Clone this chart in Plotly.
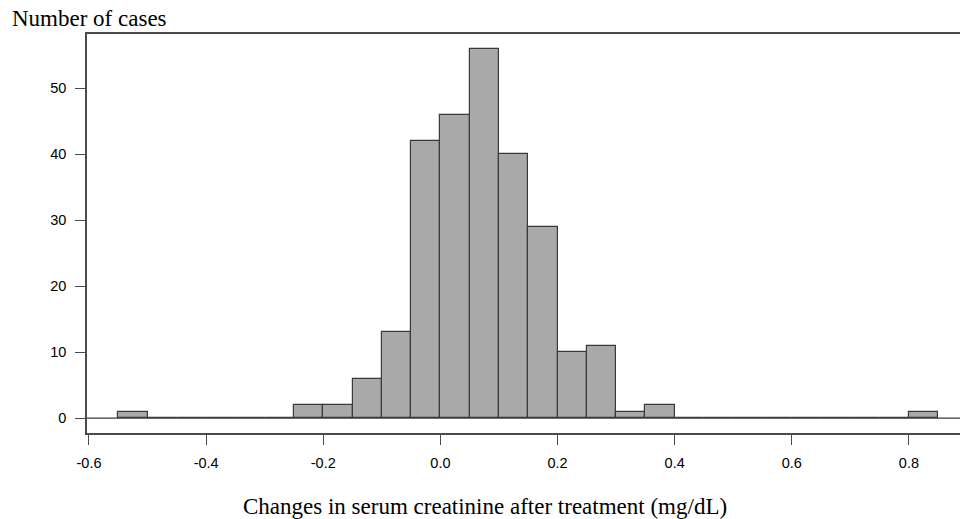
import plotly.graph_objects as go

# Histogram bins (width 0.05) and counts
bin_starts = [-0.55, -0.50, -0.45, -0.40, -0.35, -0.30, -0.25, -0.20, -0.15, -0.10,
              -0.05, 0.00, 0.05, 0.10, 0.15, 0.20, 0.25, 0.30, 0.35, 0.40,
              0.45, 0.50, 0.55, 0.60, 0.65, 0.70, 0.75, 0.80]
counts = [1, 0, 0, 0, 0, 0, 2, 2, 6, 13,
          42, 46, 56, 40, 29, 10, 11, 1, 2, 0,
          0, 0, 0, 0, 0, 0, 0, 1]
bin_width = 0.05
x_ticks = [-0.6, -0.4, -0.2, 0.0, 0.2, 0.4, 0.6, 0.8]
x_tick_labels = ["-0.6", "-0.4", "-0.2", "0.0", "0.2", "0.4", "0.6", "0.8"]
y_ticks = [0, 10, 20, 30, 40, 50]

centers = [s + bin_width / 2 for s in bin_starts]

fig = go.Figure()
fig.add_trace(go.Bar(
    x=centers, y=counts, width=bin_width,
    marker=dict(color="#a9a9a9", line=dict(color="#3a3a3a", width=1.2)),
    hoverinfo="x+y",
))

axis_color = "#4a4a4a"
tick_font = dict(family="Liberation Sans, Arial, sans-serif", size=14.5, color="black")
fig.update_layout(
    width=960, height=519,
    margin=dict(l=87, r=0, t=34, b=86),
    paper_bgcolor="white", plot_bgcolor="white",
    showlegend=False,
    bargap=0,
    xaxis=dict(
        range=[-0.6034, 0.8872],
        tickvals=x_ticks, ticktext=x_tick_labels,
        ticks="outside", ticklen=10, tickwidth=1.2, tickcolor=axis_color,
        showline=True, linecolor=axis_color, linewidth=1.5, mirror=True,
        showgrid=False, zeroline=False,
        tickfont=tick_font,
        ticklabelstandoff=6,
    ),
    yaxis=dict(
        range=[-2.24, 58.24],
        tickvals=y_ticks,
        ticks="outside", ticklen=10, tickwidth=1.2, tickcolor=axis_color,
        showline=True, linecolor=axis_color, linewidth=1.5,
        showgrid=False, zeroline=False,
        tickfont=tick_font,
        ticklabelstandoff=6,
    ),
    shapes=[dict(type="line", xref="paper", yref="y", x0=0, x1=1, y0=0, y1=0,
                 line=dict(color="#3a3a3a", width=1.2), layer="above")],
    annotations=[
        dict(text="Number of cases", xref="paper", yref="paper",
             x=(10 - 87) / 873, y=1 + (34 - 19) / 399,
             xanchor="left", yanchor="middle", showarrow=False,
             font=dict(family="Liberation Serif, Times New Roman, serif", size=23, color="black")),
        dict(text="Changes in serum creatinine after treatment (mg/dL)", xref="paper", yref="paper",
             x=(485 - 87) / 873, y=-(507 - 433) / 399,
             xanchor="center", yanchor="middle", showarrow=False,
             font=dict(family="Liberation Serif, Times New Roman, serif", size=23, color="black")),
    ],
)

fig.write_html("out.html", config={"displayModeBar": False},
               post_script="document.body.style.margin='0';document.body.style.overflow='hidden';")
